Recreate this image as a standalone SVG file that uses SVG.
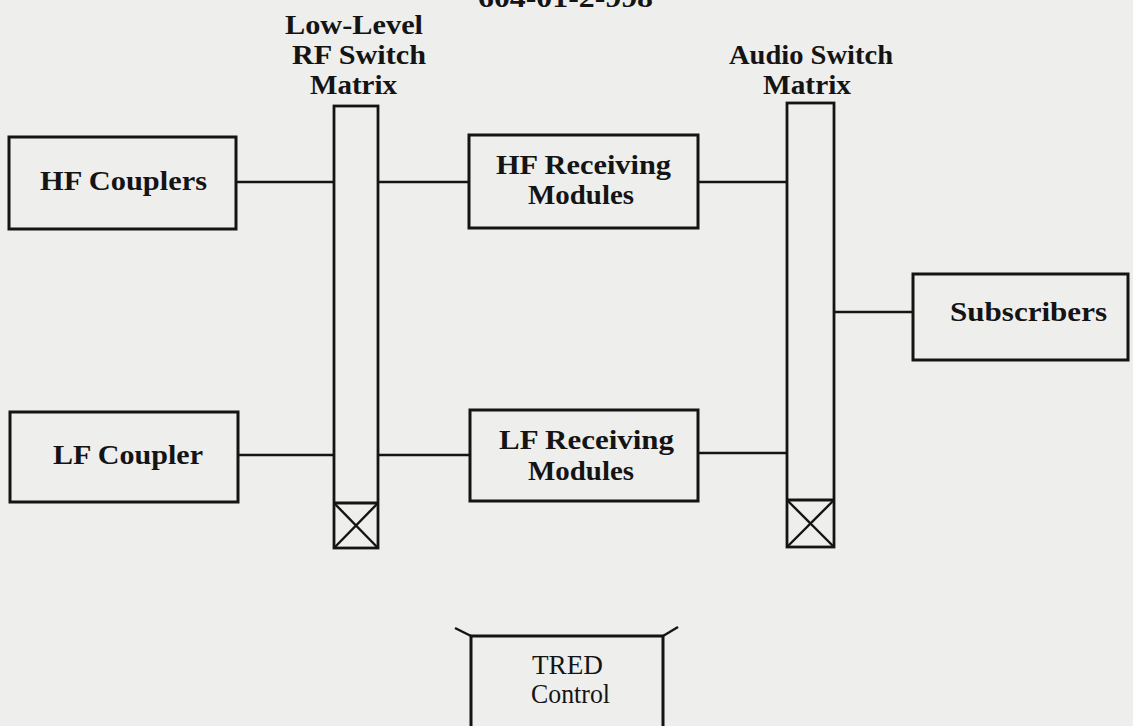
<svg xmlns="http://www.w3.org/2000/svg" width="1133" height="726" viewBox="0 0 1133 726">
<style>
.bg{fill:#eeeeec}
.box{fill:none;stroke:#141414;stroke-width:3}
.sw{fill:none;stroke:#141414;stroke-width:2.8}
.ln{fill:none;stroke:#141414;stroke-width:2.4}
.lbl{font-family:"Liberation Serif","DejaVu Serif",serif;font-weight:bold;font-size:28px;fill:#141414;text-anchor:start}
.reg{font-family:"Liberation Serif","DejaVu Serif",serif;font-size:27px;fill:#141414;text-anchor:start}
</style>
<rect class="bg" x="0" y="0" width="1133" height="726"/>
<text class="lbl" x="478" y="7" textLength="175" lengthAdjust="spacingAndGlyphs">604-01-2-998</text>

<g id="connectors">
<line class="ln" x1="236" y1="182" x2="334" y2="182"/>
<line class="ln" x1="378" y1="182" x2="469" y2="182"/>
<line class="ln" x1="698" y1="182" x2="787" y2="182"/>
<line class="ln" x1="238" y1="455" x2="334" y2="455"/>
<line class="ln" x1="378" y1="455" x2="470" y2="455"/>
<line class="ln" x1="698" y1="453" x2="787" y2="453"/>
<line class="ln" x1="834" y1="312" x2="913" y2="312"/>
</g>

<g id="hf-couplers">
<rect class="box" x="9" y="137" width="227" height="92"/>
<text class="lbl" x="40" y="190" textLength="167" lengthAdjust="spacingAndGlyphs">HF Couplers</text>
</g>

<g id="lf-coupler">
<rect class="box" x="10" y="412" width="228" height="90"/>
<text class="lbl" x="53" y="464" textLength="150" lengthAdjust="spacingAndGlyphs">LF Coupler</text>
</g>

<g id="rf-switch-matrix">
<text class="lbl" x="285" y="34" textLength="138" lengthAdjust="spacingAndGlyphs">Low-Level</text>
<text class="lbl" x="292" y="64" textLength="134" lengthAdjust="spacingAndGlyphs">RF Switch</text>
<text class="lbl" x="310" y="94" textLength="87" lengthAdjust="spacingAndGlyphs">Matrix</text>
<rect class="sw" x="334" y="106" width="44" height="442"/>
<line class="sw" x1="334" y1="503" x2="378" y2="503"/>
<line class="ln" x1="334" y1="503" x2="378" y2="548"/>
<line class="ln" x1="378" y1="503" x2="334" y2="548"/>
</g>

<g id="hf-receiving">
<rect class="box" x="469" y="135" width="229" height="93"/>
<text class="lbl" x="496" y="174" textLength="175" lengthAdjust="spacingAndGlyphs">HF Receiving</text>
<text class="lbl" x="528" y="204" textLength="106" lengthAdjust="spacingAndGlyphs">Modules</text>
</g>

<g id="lf-receiving">
<rect class="box" x="470" y="410" width="228" height="91"/>
<text class="lbl" x="499" y="449" textLength="175" lengthAdjust="spacingAndGlyphs">LF Receiving</text>
<text class="lbl" x="528" y="480" textLength="106" lengthAdjust="spacingAndGlyphs">Modules</text>
</g>

<g id="audio-switch-matrix">
<text class="lbl" x="729" y="64" textLength="164" lengthAdjust="spacingAndGlyphs">Audio Switch</text>
<text class="lbl" x="763" y="94" textLength="88" lengthAdjust="spacingAndGlyphs">Matrix</text>
<rect class="sw" x="787" y="103" width="47" height="444"/>
<line class="sw" x1="787" y1="500" x2="834" y2="500"/>
<line class="ln" x1="787" y1="500" x2="834" y2="547"/>
<line class="ln" x1="834" y1="500" x2="787" y2="547"/>
</g>

<g id="subscribers">
<rect class="box" x="913" y="274" width="215" height="86"/>
<text class="lbl" x="950" y="321" textLength="157" lengthAdjust="spacingAndGlyphs">Subscribers</text>
</g>

<g id="tred-control">
<path class="box" d="M471,740 V636 H663 V740"/>
<line class="ln" x1="471" y1="636" x2="455" y2="628"/>
<line class="ln" x1="663" y1="636" x2="678" y2="627"/>
<text class="reg" x="532" y="674" textLength="71" lengthAdjust="spacingAndGlyphs">TRED</text>
<text class="reg" x="531" y="703" textLength="79" lengthAdjust="spacingAndGlyphs">Control</text>
</g>
</svg>
